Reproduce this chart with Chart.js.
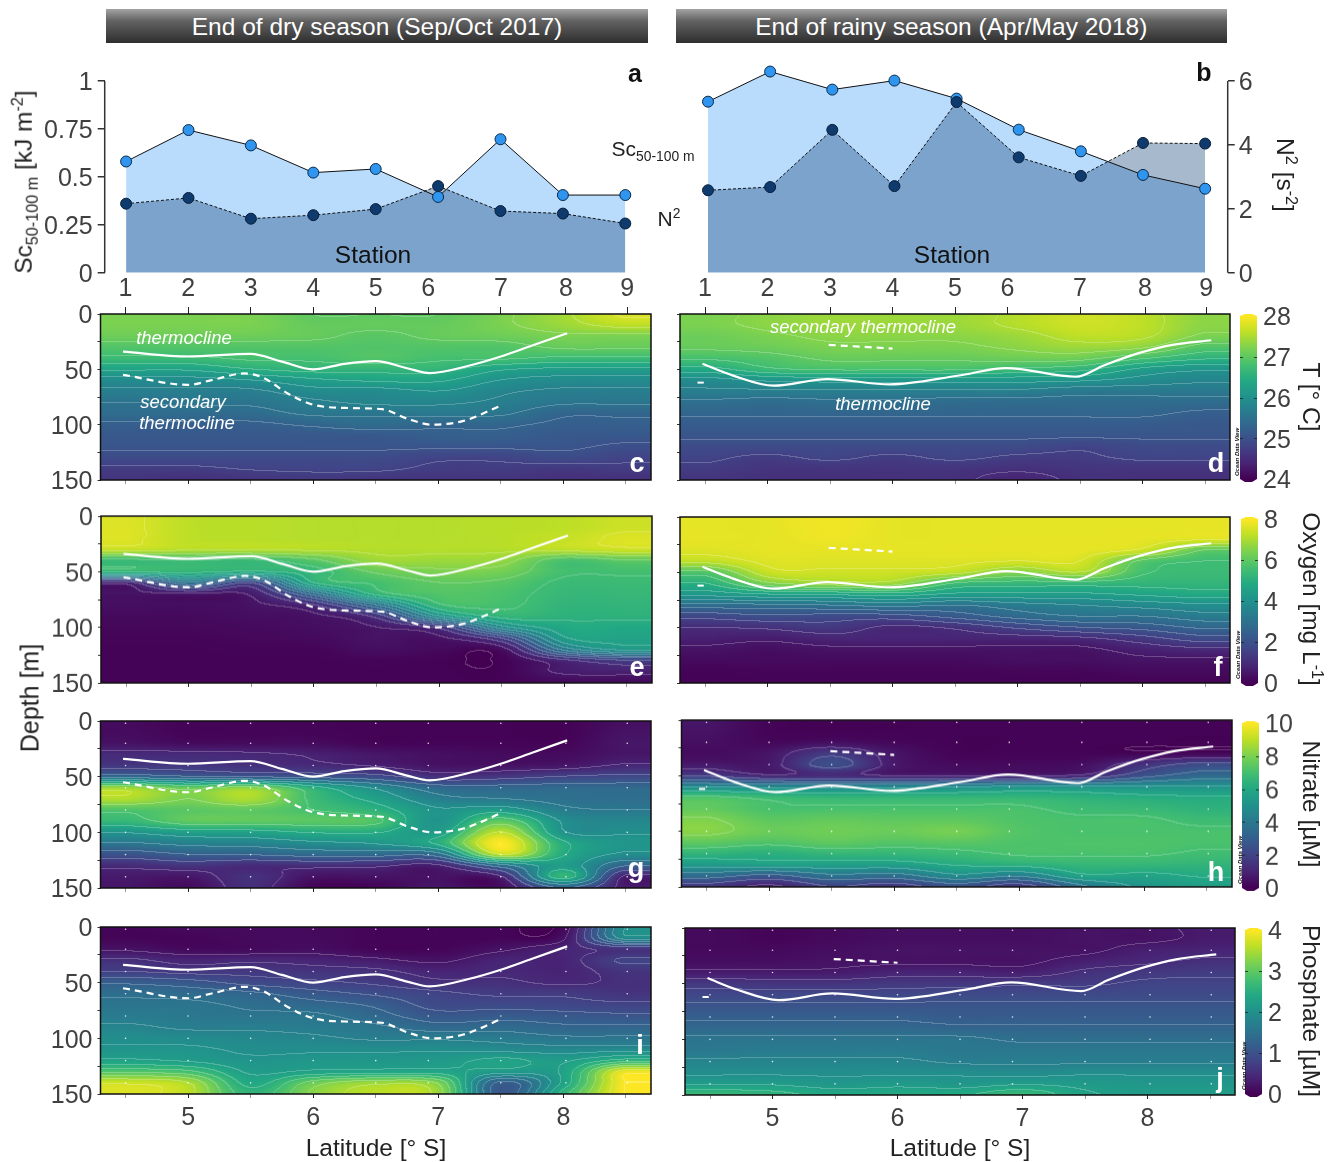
<!DOCTYPE html>
<html>
<head>
<meta charset="utf-8">
<script src="https://cdn.jsdelivr.net/npm/chart.js@4/dist/chart.umd.min.js"></script>
<style>
  html, body { margin: 0; padding: 0; background: #fff; }
  #page { position: relative; width: 1336px; height: 1162px; overflow: hidden; font-family: "Liberation Sans", Arial, sans-serif; color: #333; }
  #page canvas { position: absolute; }
  .txt { position: absolute; white-space: nowrap; line-height: 1; transform-origin: center; }
  .txt sub, .txt sup { font-size: 66%; line-height: 0; }
  .band { position: absolute; top: 9px; height: 34px; background: linear-gradient(#a3a3a3, #626262 35%, #2e2e2e); color: #fff; font-size: 24.5px; line-height: 35px; text-align: center; }
</style>
</head>
<body>
<div id="page"></div>
<script>
// stations (top panels and tick marks)
const stationNames = ['1', '2', '3', '4', '5', '6', '7', '8', '9'];
const stationLat = [4.5, 5, 5.5, 6, 6.5, 6.92, 7.5, 8.02, 8.51];
const pointLat = [4.5, 5, 5.5, 6, 6.5, 7, 7.5, 8, 8.5];

const scDry = [0.58, 0.744, 0.664, 0.522, 0.541, 0.395, 0.696, 0.405, 0.405];
const n2Dry = [2.16, 2.34, 1.69, 1.8, 1.99, 2.71, 1.93, 1.85, 1.54];
const scRainy = [0.892, 1.049, 0.955, 1.002, 0.908, 0.746, 0.633, 0.51, 0.438];
const n2Rainy = [2.58, 2.68, 4.47, 2.71, 5.34, 3.61, 3.03, 4.06, 4.04];

const scTicks = [0, 0.25, 0.5, 0.75, 1];
const n2Ticks = [0, 2, 4, 6];
const depthTicks = [0, 25, 50, 75, 100, 125, 150];
const latTicks = [4.5, 5, 5.5, 6, 6.5, 7, 7.5, 8, 8.5];
const sampleDepths = [2, 20, 40, 60, 80, 100, 120, 140];

// thermocline lines
const thermoDryLat = [4.48, 5, 5.5, 5.75, 6, 6.25, 6.5, 6.75, 6.93, 7.25, 7.5, 7.75, 8.03];
const thermoDryDepth = [34, 38.4, 36, 43, 50, 45, 42.6, 49, 53.4, 46.5, 38.4, 28.5, 17.4];
const secDryLat = [4.48, 5, 5.2, 5.45, 5.6, 5.8, 6, 6.3, 6.55, 6.75, 6.95, 7.2, 7.5];
const secDryDepth = [55, 64, 59.4, 53.7, 57.6, 72, 82, 85, 86, 94.5, 100, 96.6, 82.8];
const thermoRainyLat = [4.48, 4.72, 5.05, 5.48, 5.98, 6.52, 6.91, 7.47, 7.69, 7.97, 8.24, 8.55];
const thermoRainyDepth = [45, 55.5, 64.8, 58.8, 63.6, 55.8, 48.9, 56.7, 46.5, 35.4, 27.9, 23.7];
const secRainyLat = [5.49, 6];
const secRainyDepth = [27.9, 31.2];
const stubRainyLat = [4.44, 4.49];
const stubRainyDepth = [62, 62];

// section grids: one row per gridDepths entry, one column per pointLat entry
const gridDepths = [0, 10, 20, 30, 40, 50, 60, 70, 80, 90, 100, 110, 120, 130, 140, 150];

const tempDry = [
  [27.2, 27.2, 27.2, 27.0, 27.0, 27.0, 27.2, 27.45, 27.8],
  [27.2, 27.2, 27.2, 27.05, 27.05, 27.05, 27.2, 27.4, 27.6],
  [27.1, 27.1, 27.1, 27.05, 26.95, 27.05, 27.1, 27.2, 27.2],
  [26.9, 26.9, 26.9, 26.9, 26.9, 26.9, 26.9, 27.05, 27.05],
  [26.7, 26.7, 26.8, 26.8, 26.9, 26.8, 26.8, 26.7, 26.7],
  [26.3, 26.3, 26.5, 26.6, 26.6, 26.6, 26.3, 26.2, 26.2],
  [25.9, 25.9, 26.0, 26.2, 26.3, 26.3, 26.0, 25.9, 25.9],
  [25.7, 25.7, 25.7, 25.9, 25.9, 26.0, 25.8, 25.7, 25.7],
  [25.5, 25.55, 25.55, 25.7, 25.8, 25.8, 25.7, 25.55, 25.55],
  [25.4, 25.4, 25.4, 25.55, 25.55, 25.6, 25.55, 25.3, 25.3],
  [25.2, 25.2, 25.2, 25.3, 25.4, 25.3, 25.3, 25.2, 25.2],
  [25.1, 25.1, 25.1, 25.1, 25.1, 25.2, 25.2, 25.1, 25.1],
  [25.05, 25.05, 25.05, 25.05, 25.05, 25.05, 25.05, 25.05, 24.95],
  [24.9, 24.9, 24.9, 24.9, 24.9, 24.8, 24.8, 24.9, 24.8],
  [24.7, 24.7, 24.77, 24.8, 24.8, 24.7, 24.7, 24.65, 24.7],
  [24.6, 24.55, 24.6, 24.65, 24.6, 24.6, 24.6, 24.55, 24.55]
];
const tempRainy = [
  [27.2, 27.3, 27.4, 27.4, 27.4, 27.55, 27.7, 27.6, 27.3],
  [27.2, 27.3, 27.4, 27.4, 27.4, 27.55, 27.7, 27.6, 27.3],
  [27.1, 27.2, 27.3, 27.3, 27.3, 27.4, 27.6, 27.55, 27.2],
  [27.05, 27.1, 27.2, 27.2, 27.2, 27.3, 27.4, 27.3, 26.9],
  [26.8, 26.9, 27.05, 27.05, 27.05, 27.1, 27.1, 26.8, 26.55],
  [26.4, 26.7, 26.8, 26.8, 26.8, 26.7, 26.6, 26.2, 26.05],
  [25.9, 26.05, 26.1, 26.1, 26.1, 26.1, 26.05, 25.9, 25.8],
  [25.7, 25.7, 25.7, 25.7, 25.7, 25.7, 25.6, 25.6, 25.6],
  [25.45, 25.4, 25.45, 25.45, 25.4, 25.4, 25.4, 25.4, 25.4],
  [25.3, 25.3, 25.3, 25.3, 25.3, 25.3, 25.3, 25.3, 25.2],
  [25.15, 25.15, 25.15, 25.15, 25.15, 25.15, 25.15, 25.15, 25.1],
  [25.05, 25.05, 25.05, 25.05, 25.05, 25.05, 25.05, 25.05, 25.05],
  [24.9, 24.9, 24.9, 24.9, 24.9, 24.9, 24.8, 24.9, 24.9],
  [24.8, 24.7, 24.8, 24.7, 24.8, 24.7, 24.7, 24.8, 24.8],
  [24.7, 24.6, 24.6, 24.6, 24.6, 24.55, 24.6, 24.6, 24.6],
  [24.6, 24.55, 24.55, 24.55, 24.55, 24.4, 24.55, 24.55, 24.55]
];
const oxyDry = [
  [7.6, 7.2, 7.15, 7.1, 7.1, 7.1, 7.15, 7.2, 7.4],
  [7.6, 7.2, 7.15, 7.1, 7.1, 7.1, 7.15, 7.2, 7.4],
  [7.6, 7.2, 7.15, 7.1, 7.1, 7.1, 7.15, 7.3, 7.6],
  [7.3, 7.1, 7.1, 7.1, 7.1, 7.1, 7.1, 7.2, 7.4],
  [5.4, 5.5, 5.4, 5.9, 6.8, 6.8, 6.7, 5.7, 6.0],
  [5.2, 5.2, 5.0, 5.3, 6.1, 6.4, 6.3, 5.6, 5.6],
  [0.8, 3.0, 1.6, 5.0, 5.6, 6.0, 5.9, 5.4, 5.4],
  [0.4, 0.5, 0.6, 2.8, 5.2, 5.8, 5.7, 5.3, 5.3],
  [0.3, 0.3, 0.4, 1.0, 3.0, 5.4, 5.6, 5.2, 5.2],
  [0.2, 0.2, 0.3, 0.4, 1.2, 4.0, 5.2, 5.1, 5.1],
  [0.15, 0.15, 0.2, 0.3, 0.5, 1.2, 3.8, 4.8, 4.8],
  [0.1, 0.1, 0.15, 0.2, 0.4, 0.4, 1.5, 4.4, 4.6],
  [0.05, 0.05, 0.1, 0.1, 0.3, 0.2, 0.3, 3.2, 4.2],
  [0.05, 0.05, 0.05, 0.05, 0.1, 0.05, 0.05, 0.9, 1.5],
  [0.05, 0.05, 0.05, 0.05, 0.05, 0.05, 0.05, 0.6, 0.7],
  [0.05, 0.05, 0.05, 0.05, 0.05, 0.05, 0.05, 0.2, 0.2]
];
const oxyRainy = [
  [7.7, 7.7, 7.85, 7.7, 7.7, 7.7, 7.7, 7.7, 7.7],
  [7.7, 7.7, 7.85, 7.7, 7.7, 7.7, 7.7, 7.7, 7.7],
  [7.7, 7.7, 7.8, 7.7, 7.7, 7.7, 7.7, 7.7, 7.6],
  [7.6, 7.7, 7.7, 7.7, 7.7, 7.7, 7.7, 7.4, 6.0],
  [7.2, 7.6, 7.6, 7.6, 7.6, 7.5, 7.5, 5.9, 5.5],
  [5.8, 7.3, 7.4, 7.4, 7.2, 6.5, 7.0, 5.6, 5.4],
  [5.0, 6.4, 6.8, 6.8, 5.5, 5.3, 5.3, 5.2, 5.2],
  [4.2, 4.5, 4.6, 4.8, 4.4, 4.4, 4.4, 4.6, 4.8],
  [2.8, 2.9, 3.0, 3.2, 3.0, 3.3, 3.5, 3.7, 3.9],
  [1.7, 1.9, 1.8, 1.8, 2.2, 2.7, 3.0, 3.0, 3.3],
  [1.0, 1.1, 1.3, 0.9, 1.1, 1.6, 2.0, 2.2, 2.6],
  [0.7, 0.6, 0.8, 0.8, 0.8, 0.8, 0.9, 1.3, 1.8],
  [0.4, 0.3, 0.4, 0.4, 0.4, 0.4, 0.4, 0.7, 0.9],
  [0.2, 0.2, 0.2, 0.2, 0.2, 0.3, 0.3, 0.4, 0.4],
  [0.05, 0.1, 0.1, 0.1, 0.1, 0.1, 0.1, 0.2, 0.2],
  [0.05, 0.05, 0.05, 0.05, 0.05, 0.05, 0.05, 0.05, 0.05]
];
const nitDry = [
  [0.3, 0.1, 0.1, 0.1, 0.05, 0.05, 0.05, 0.05, 0.4],
  [0.3, 0.1, 0.1, 0.1, 0.05, 0.05, 0.05, 0.05, 0.5],
  [0.5, 0.3, 0.3, 0.3, 0.1, 0.1, 0.1, 0.1, 0.6],
  [1.2, 1.2, 1.1, 0.9, 0.6, 0.4, 0.3, 0.3, 0.6],
  [1.6, 1.6, 1.4, 1.2, 0.9, 0.5, 0.5, 0.6, 1.1],
  [3.5, 3.0, 2.8, 2.6, 2.3, 1.4, 1.6, 2.0, 2.2],
  [8.5, 7.6, 8.2, 6.3, 4.8, 3.4, 3.3, 3.4, 3.4],
  [8.8, 8.0, 8.7, 6.8, 5.7, 4.3, 4.0, 3.7, 3.6],
  [7.2, 7.4, 7.5, 7.0, 6.4, 5.1, 5.5, 4.2, 4.0],
  [6.6, 7.5, 7.5, 7.4, 7.2, 5.1, 7.5, 4.9, 4.6],
  [5.1, 5.6, 5.7, 6.1, 6.1, 5.5, 9.0, 5.1, 4.9],
  [3.9, 4.3, 4.4, 4.8, 5.1, 6.2, 10, 6.2, 5.2],
  [2.5, 3.0, 3.1, 3.4, 3.4, 3.6, 9.0, 6.1, 4.8],
  [1.2, 1.5, 1.2, 1.3, 1.2, 0.9, 3.6, 5.5, 3.1],
  [0.7, 0.6, 1.4, 0.5, 0.5, 0.5, 0.9, 6.5, 0.8],
  [0.6, 0.3, 1.3, 0.1, 0.1, 0.6, 0.3, 3.1, 0.7]
];
const nitRainy = [
  [0.6, 0.1, 0.05, 0.05, 0.05, 0.05, 0.05, 0.05, 0.05],
  [0.5, 0.1, 0.05, 0.05, 0.05, 0.05, 0.05, 0.05, 0.05],
  [0.4, 0.2, 0.4, 0.2, 0.05, 0.05, 0.05, 0.05, 0.05],
  [0.3, 0.6, 1.7, 0.6, 0.1, 0.1, 0.1, 0.1, 0.2],
  [0.7, 0.7, 2.4, 0.7, 0.3, 0.3, 0.4, 1.5, 2.3],
  [1.8, 1.1, 1.3, 0.9, 0.9, 0.9, 1.1, 2.6, 3.5],
  [4.8, 4.7, 4.6, 4.7, 4.8, 5.1, 5.1, 5.1, 5.1],
  [7.2, 6.8, 6.6, 6.6, 6.6, 6.6, 6.4, 6.2, 6.1],
  [7.6, 7.1, 7.1, 7.1, 7.1, 7.1, 6.8, 6.7, 6.4],
  [8.1, 7.5, 7.6, 7.5, 7.5, 7.2, 7.1, 7.1, 6.8],
  [8.2, 7.7, 7.8, 7.7, 7.9, 7.3, 7.1, 7.1, 7.1],
  [7.5, 7.2, 7.5, 7.3, 7.4, 7.2, 7.2, 7.2, 7.1],
  [6.5, 6.3, 6.6, 6.6, 6.8, 7.1, 7.1, 7.1, 6.9],
  [5.4, 5.6, 5.6, 5.6, 6.1, 6.3, 6.6, 6.6, 6.5],
  [3.5, 2.8, 3.8, 3.6, 4.8, 4.2, 5.8, 5.8, 6.1],
  [1.6, 0.8, 2.0, 1.5, 2.5, 1.5, 3.8, 5.2, 5.6]
];
const phoDry = [
  [0.05, 0.1, 0.1, 0.1, 0.05, 0.05, 0.05, 0.1, 2.0],
  [0.05, 0.05, 0.1, 0.1, 0.05, 0.05, 0.05, 0.2, 1.9],
  [0.2, 0.1, 0.1, 0.15, 0.05, 0.05, 0.2, 0.4, 0.6],
  [0.55, 0.4, 0.45, 0.4, 0.3, 0.2, 0.4, 0.4, 0.8],
  [0.75, 0.65, 0.65, 0.6, 0.55, 0.4, 0.45, 0.4, 0.6],
  [1.2, 1.1, 0.9, 0.8, 0.7, 0.55, 0.55, 0.45, 0.55],
  [1.45, 1.4, 1.3, 1.1, 0.95, 0.8, 0.7, 0.7, 0.6],
  [1.55, 1.55, 1.45, 1.35, 1.2, 0.9, 0.9, 0.85, 0.8],
  [1.65, 1.6, 1.55, 1.55, 1.35, 1.1, 1.15, 1.1, 1.05],
  [1.8, 1.7, 1.7, 1.65, 1.55, 1.35, 1.4, 1.3, 1.3],
  [1.95, 1.9, 1.85, 1.8, 1.7, 1.7, 1.65, 1.55, 1.55],
  [2.05, 2.05, 1.95, 1.95, 1.95, 1.95, 1.9, 1.85, 1.9],
  [2.3, 2.2, 2.05, 2.1, 2.1, 2.15, 2.3, 2.2, 2.6],
  [2.9, 2.8, 2.2, 2.3, 2.35, 2.35, 2.15, 2.3, 3.9],
  [3.7, 3.5, 2.4, 3.1, 3.4, 3.2, 1.2, 2.3, 4.0],
  [3.8, 3.6, 2.6, 3.3, 3.6, 3.4, 1.1, 2.6, 4.0]
];
const phoRainy = [
  [0.1, 0.05, 0.1, 0.15, 0.15, 0.15, 0.2, 0.2, 0.3],
  [0.1, 0.05, 0.1, 0.15, 0.15, 0.15, 0.2, 0.2, 0.3],
  [0.1, 0.1, 0.15, 0.2, 0.2, 0.2, 0.2, 0.35, 0.4],
  [0.15, 0.15, 0.2, 0.2, 0.2, 0.2, 0.35, 0.45, 0.55],
  [0.3, 0.3, 0.3, 0.4, 0.4, 0.35, 0.55, 0.65, 0.7],
  [0.65, 0.6, 0.6, 0.65, 0.65, 0.7, 0.7, 0.8, 0.8],
  [0.85, 0.85, 0.85, 0.85, 0.9, 0.9, 0.9, 0.9, 0.9],
  [1.05, 1.05, 1.05, 1.05, 1.05, 1.05, 1.05, 1.05, 1.05],
  [1.2, 1.2, 1.2, 1.2, 1.15, 1.15, 1.15, 1.15, 1.15],
  [1.35, 1.35, 1.35, 1.35, 1.3, 1.3, 1.3, 1.3, 1.3],
  [1.55, 1.55, 1.55, 1.55, 1.55, 1.45, 1.45, 1.45, 1.45],
  [1.6, 1.65, 1.65, 1.65, 1.6, 1.6, 1.6, 1.6, 1.6],
  [1.8, 1.8, 1.8, 1.8, 1.7, 1.7, 1.7, 1.7, 1.7],
  [1.95, 1.95, 1.95, 1.95, 1.95, 1.9, 1.95, 1.95, 1.95],
  [2.2, 2.2, 2.1, 2.15, 2.1, 2.2, 2.15, 2.1, 2.1],
  [2.7, 2.6, 2.4, 2.45, 2.45, 2.7, 2.3, 2.2, 2.2]
];

const tempTicks = [24, 25, 26, 27, 28];
const oxyTicks = [0, 2, 4, 6, 8];
const nitTicks = [0, 2, 4, 6, 8, 10];
const phoTicks = [0, 1, 2, 3, 4];

const viridis = [[68, 1, 84], [72, 36, 117], [65, 68, 135], [53, 95, 141], [42, 120, 142], [33, 145, 140], [34, 168, 132], [68, 191, 112], [122, 209, 81], [189, 223, 38], [253, 231, 37]];

const page = document.getElementById('page');
const tickFont = { size: 25 };
const tickColor = '#404040';
const labelDrop = 2.5;
Chart.defaults.font.family = "'Liberation Sans', Arial, sans-serif";
Chart.defaults.color = tickColor;
Chart.defaults.animation = false;
Chart.defaults.responsive = false;
Chart.defaults.layout.autoPadding = false;

function makeCanvas(x, y, w, h) {
  const c = document.createElement('canvas');
  c.width = w;
  c.height = h;
  c.style.left = x + 'px';
  c.style.top = y + 'px';
  c.style.width = w + 'px';
  c.style.height = h + 'px';
  page.appendChild(c);
  return c.getContext('2d');
}

function addText(html, x, y, size, extra) {
  const s = document.createElement('div');
  s.className = 'txt';
  s.innerHTML = html;
  s.style.left = x + 'px';
  s.style.top = y + 'px';
  s.style.fontSize = size + 'px';
  if (extra && extra.style) s.style.cssText += extra.style;
  s.style.transform = 'translate(-50%, -50%) ' + (extra && extra.rotate ? 'rotate(' + extra.rotate + 'deg)' : '');
  page.appendChild(s);
}

function zip(xs, ys) {
  return xs.map((x, i) => ({ x: x, y: ys[i] }));
}

function viridisAt(t) {
  t = Math.max(0, Math.min(1, t)) * 10;
  const i = Math.min(9, Math.floor(t));
  const f = t - i;
  return [0, 1, 2].map(k => viridis[i][k] + (viridis[i + 1][k] - viridis[i][k]) * f);
}

function catmull(p0, p1, p2, p3, t) {
  return 0.5 * (2 * p1 + (p2 - p0) * t + (2 * p0 - 5 * p1 + 4 * p2 - p3) * t * t + (3 * p1 - p0 - 3 * p2 + p3) * t * t * t);
}

// position inside a list as [index, fraction], stuck to the ends
function locate(list, v) {
  if (v <= list[0]) return [0, 0];
  for (let i = 0; i < list.length - 1; i++) {
    if (v < list[i + 1]) return [i, (v - list[i]) / (list[i + 1] - list[i])];
  }
  return [list.length - 1, 0];
}

// Shades the plot area from a grid, going through the chart's own scales
function sectionPlugin(grid, vmin, vmax, step) {
  return {
    id: 'section',
    beforeDatasetsDraw(chart) {
      const a = chart.chartArea;
      const w = Math.round(a.right - a.left);
      const h = Math.round(a.bottom - a.top);
      const cols = [];
      for (let i = 0; i < w; i++) cols.push(locate(pointLat, chart.scales.x.getValueForPixel(a.left + i + 0.5)));
      const rows = [];
      for (let j = 0; j < h; j++) rows.push(locate(gridDepths, chart.scales.y.getValueForPixel(a.top + j + 0.5)));
      const nr = gridDepths.length, nc = pointLat.length;
      const at = (r, c) => grid[Math.max(0, Math.min(nr - 1, r))][Math.max(0, Math.min(nc - 1, c))];
      const vals = new Float32Array(w * h);
      for (let j = 0; j < h; j++) {
        const [r, fr] = rows[j];
        for (let i = 0; i < w; i++) {
          const [c, fc] = cols[i];
          const line = [];
          for (let k = -1; k <= 2; k++) {
            line.push(catmull(at(r + k, c - 1), at(r + k, c), at(r + k, c + 1), at(r + k, c + 2), fc));
          }
          vals[j * w + i] = catmull(line[0], line[1], line[2], line[3], fr);
        }
      }
      const off = document.createElement('canvas');
      off.width = w;
      off.height = h;
      const octx = off.getContext('2d');
      const img = octx.createImageData(w, h);
      for (let j = 0; j < h; j++) {
        for (let i = 0; i < w; i++) {
          const v = vals[j * w + i];
          const rgb = viridisAt((v - vmin) / (vmax - vmin));
          const band = Math.floor(v / step);
          const edge = (i < w - 1 && Math.floor(vals[j * w + i + 1] / step) !== band) || (j < h - 1 && Math.floor(vals[(j + 1) * w + i] / step) !== band);
          const o = (j * w + i) * 4;
          for (let k = 0; k < 3; k++) img.data[o + k] = edge ? rgb[k] + (255 - rgb[k]) * 0.22 : rgb[k];
          img.data[o + 3] = 255;
        }
      }
      octx.putImageData(img, 0, 0);
      chart.ctx.drawImage(off, a.left, a.top, a.right - a.left, a.bottom - a.top);
    },
    afterDatasetsDraw(chart) {
      const a = chart.chartArea;
      const ctx = chart.ctx;
      ctx.save();
      ctx.strokeStyle = '#111';
      ctx.lineWidth = 1.5;
      ctx.strokeRect(a.left, a.top, a.right - a.left, a.bottom - a.top);
      ctx.restore();
    }
  };
}

function sectionChart(o) {
  const canvasTop = o.top - (o.stationLabels ? 44 : 20);
  const canvasBottom = o.bottom + (o.latLabels ? 42 : 20);
  const ctx = makeCanvas(o.canvasX, canvasTop, o.canvasW, canvasBottom - canvasTop);

  const datasets = [
    { data: zip(o.thermo[0], o.thermo[1]), showLine: true, borderColor: '#fff', borderWidth: 2.2, pointRadius: 0, cubicInterpolationMode: 'monotone' },
    { data: zip(o.sec[0], o.sec[1]), showLine: true, borderColor: '#fff', borderWidth: 2.2, borderDash: [7, 5], pointRadius: 0, cubicInterpolationMode: 'monotone' }
  ];
  if (o.stub) {
    datasets.push({ data: zip(stubRainyLat, stubRainyDepth), showLine: true, borderColor: '#fff', borderWidth: 2, pointRadius: 0 });
  }
  if (o.dots) {
    const pts = [];
    stationLat.forEach(lat => sampleDepths.forEach(d => pts.push({ x: lat, y: d })));
    datasets.push({ data: pts, showLine: false, pointRadius: 0.8, pointBackgroundColor: 'rgba(255,255,255,0.85)', pointBorderWidth: 0 });
  }

  return new Chart(ctx, {
    type: 'scatter',
    data: { datasets: datasets },
    options: {
      layout: { padding: { left: o.labelDepth ? 0 : o.left - o.canvasX - 60, right: o.canvasX + o.canvasW - o.right } },
      plugins: { legend: { display: false }, tooltip: { enabled: false } },
      scales: {
        x: {
          type: 'linear', position: 'bottom', min: 4.3, max: 8.7,
          border: { display: false },
          grid: { drawOnChartArea: false, tickLength: 4, tickColor: c => (Number.isInteger(c.tick.value) ? '#222' : '#999') },
          afterBuildTicks: s => { s.ticks = latTicks.map(v => ({ value: v })); },
          ticks: { font: tickFont, color: tickColor, autoSkip: false, maxRotation: 0, padding: 5, callback: v => (o.latLabels && Number.isInteger(v) ? String(v) : '') },
          afterFit: s => { s.height = canvasBottom - o.bottom; }
        },
        x2: {
          type: 'linear', position: 'top', min: 4.3, max: 8.7,
          border: { display: false },
          grid: { drawOnChartArea: !o.dots, color: 'rgba(255,255,255,0.28)', lineWidth: 1, tickLength: o.stationLabels ? 7 : 0, tickColor: '#222' },
          afterBuildTicks: s => { s.ticks = stationLat.map(v => ({ value: v })); },
          ticks: { font: tickFont, color: tickColor, autoSkip: false, maxRotation: 0, padding: 3, callback: (v, i) => (o.stationLabels ? stationNames[i] : '') },
          afterFit: s => { s.height = o.top - canvasTop; }
        },
        y: {
          type: 'linear', position: 'left', reverse: true, min: 0, max: 150,
          border: { display: false },
          grid: { drawOnChartArea: false, tickLength: 3, tickColor: '#333' },
          afterBuildTicks: s => { s.ticks = depthTicks.map(v => ({ value: v })); },
          ticks: { font: tickFont, color: tickColor, autoSkip: false, padding: 5, labelOffset: labelDrop, callback: v => (o.labelDepth && v % 50 === 0 ? String(v) : '') },
          afterFit: s => { s.width = o.labelDepth ? o.left - o.canvasX : 60; }
        }
      }
    },
    plugins: [sectionPlugin(o.grid, o.vmin, o.vmax, o.step)]
  });
}

// Colour bar with its value axis on the right
function colorBar(o) {
  const ctx = makeCanvas(o.left - 4, o.top - 20, 70, o.bottom - o.top + 40);
  return new Chart(ctx, {
    type: 'scatter',
    data: { datasets: [] },
    options: {
      layout: { padding: { left: 4, top: 20, bottom: 20 } },
      plugins: { legend: { display: false }, tooltip: { enabled: false } },
      scales: {
        x: { type: 'linear', display: false, min: 0, max: 1, afterFit: s => { s.height = 0; } },
        y: {
          type: 'linear', position: 'right', min: o.ticks[0], max: o.ticks[o.ticks.length - 1],
          border: { display: false },
          grid: { drawOnChartArea: false, drawTicks: false },
          afterBuildTicks: s => { s.ticks = o.ticks.map(v => ({ value: v })); },
          ticks: { font: tickFont, color: tickColor, autoSkip: false, padding: 6, labelOffset: labelDrop, callback: v => String(v) },
          afterFit: s => { s.width = 70 - 4 - o.width; }
        }
      }
    },
    plugins: [{
      id: 'bar',
      afterDraw(chart) {
        const a = chart.chartArea;
        const y = chart.scales.y;
        const c = chart.ctx;
        const g = c.createLinearGradient(0, y.getPixelForValue(o.ticks[0]), 0, y.getPixelForValue(o.ticks[o.ticks.length - 1]));
        viridis.forEach((col, i) => g.addColorStop(i / 10, 'rgb(' + col.join(',') + ')'));
        c.save();
        c.fillStyle = g;
        c.beginPath();
        c.moveTo(a.left, a.top);
        c.lineTo(a.left + 5, a.top - 2);
        c.lineTo(a.right - 5, a.top - 2);
        c.lineTo(a.right, a.top);
        c.lineTo(a.right, a.bottom);
        c.lineTo(a.right - 5, a.bottom + 3);
        c.lineTo(a.left + 5, a.bottom + 3);
        c.lineTo(a.left, a.bottom);
        c.closePath();
        c.fill();
        c.strokeStyle = 'rgba(30,30,30,0.8)';
        c.lineWidth = 1;
        y.ticks.slice(1, -1).forEach(t => {
          const py = Math.round(y.getPixelForValue(t.value)) + 0.5;
          c.beginPath();
          c.moveTo(a.left, py);
          c.lineTo(a.left + 3, py);
          c.moveTo(a.right - 3, py);
          c.lineTo(a.right, py);
          c.stroke();
        });
        c.restore();
      }
    }]
  });
}

// Top panels: Sc on 0-1 and N2 on 0-6, only one of the two axes is shown per panel
function stationChart(o) {
  const canvasTop = 30;
  const canvasH = 270;
  const ctx = makeCanvas(o.canvasX, canvasTop, o.canvasW, canvasH);
  const bottom = 272.7;
  const top = 61.8;
  const areaDataset = { data: zip(pointLat, o.sc), yAxisID: 'ySc', order: 3, showLine: true, fill: 'origin', backgroundColor: 'rgb(185,220,253)', borderWidth: 0, pointRadius: 0 };
  const n2Dataset = { data: zip(pointLat, o.n2), yAxisID: 'yN2', order: o.n2Front ? 0 : 1, showLine: true, fill: 'origin', backgroundColor: 'rgba(17,66,120,0.37)', borderColor: '#111', borderWidth: 1, borderDash: [3, 2], pointRadius: 5.5, pointBackgroundColor: '#0e3a6d', pointBorderColor: '#0a1f3a', pointBorderWidth: 1 };
  const scDataset = { data: zip(pointLat, o.sc), yAxisID: 'ySc', order: o.n2Front ? 1 : 0, showLine: true, borderColor: '#111', borderWidth: 1, pointRadius: 5.5, pointBackgroundColor: '#2f95ee', pointBorderColor: '#0a2a4a', pointBorderWidth: 1 };

  return new Chart(ctx, {
    type: 'scatter',
    data: { datasets: [areaDataset, n2Dataset, scDataset] },
    options: {
      layout: { padding: { top: top - canvasTop, bottom: canvasTop + canvasH - bottom, left: o.leftAxis ? 0 : o.left - o.canvasX, right: o.leftAxis ? o.canvasX + o.canvasW - o.right : 0 } },
      plugins: { legend: { display: false }, tooltip: { enabled: false }, filler: { drawTime: 'beforeDatasetsDraw' } },
      scales: {
        x: { type: 'linear', display: false, min: o.latMin, max: o.latMax, afterFit: s => { s.height = 0; } },
        ySc: {
          type: 'linear', position: 'left', display: o.leftAxis, min: 0, max: 1.1,
          border: { display: false },
          grid: { drawOnChartArea: false, tickLength: 7, tickColor: '#333', lineWidth: 1.5 },
          afterBuildTicks: s => { s.ticks = scTicks.map(v => ({ value: v })); },
          ticks: { font: tickFont, color: tickColor, autoSkip: false, padding: 5, labelOffset: labelDrop, callback: v => String(v) },
          afterFit: s => { s.width = o.leftAxis ? o.left - o.canvasX : 0; }
        },
        yN2: {
          type: 'linear', position: 'right', display: !o.leftAxis, min: 0, max: 6.6,
          border: { display: false },
          grid: { drawOnChartArea: false, tickLength: 7, tickColor: '#333', lineWidth: 1.5 },
          afterBuildTicks: s => { s.ticks = n2Ticks.map(v => ({ value: v })); },
          ticks: { font: tickFont, color: tickColor, autoSkip: false, padding: 4, labelOffset: labelDrop, callback: v => String(v) },
          afterFit: s => { s.width = o.leftAxis ? 0 : o.canvasX + o.canvasW - o.right; }
        }
      }
    },
    plugins: [{
      id: 'axisLine',
      afterDraw(chart) {
        const s = o.leftAxis ? chart.scales.ySc : chart.scales.yN2;
        const px = o.leftAxis ? chart.chartArea.left : chart.chartArea.right;
        const c = chart.ctx;
        c.save();
        c.strokeStyle = '#333';
        c.lineWidth = 1.5;
        c.beginPath();
        c.moveTo(px, s.getPixelForValue(0));
        c.lineTo(px, s.getPixelForValue(s.ticks[s.ticks.length - 1].value));
        c.stroke();
        c.restore();
      }
    }]
  });
}

stationChart({ canvasX: 0, canvasW: 660, left: 104.7, right: 651, latMin: 4.3285, latMax: 8.706, sc: scDry, n2: n2Dry, leftAxis: true, n2Front: false });
stationChart({ canvasX: 660, canvasW: 676, left: 680, right: 1227.7, latMin: 4.2746, latMax: 8.6815, sc: scRainy, n2: n2Rainy, leftAxis: false, n2Front: true });

const thermoDry = [thermoDryLat, thermoDryDepth];
const secDry = [secDryLat, secDryDepth];
const thermoRainy = [thermoRainyLat, thermoRainyDepth];
const secRainy = [secRainyLat, secRainyDepth];

sectionChart({ canvasX: 0, canvasW: 660, left: 100.5, right: 651, top: 313.5, bottom: 480, grid: tempDry, vmin: 24, vmax: 28, step: 0.25, thermo: thermoDry, sec: secDry, labelDepth: true, stationLabels: true });
sectionChart({ canvasX: 660, canvasW: 580, left: 680, right: 1230, top: 313.5, bottom: 480, grid: tempRainy, vmin: 24, vmax: 28, step: 0.25, thermo: thermoRainy, sec: secRainy, stub: true, stationLabels: true });
sectionChart({ canvasX: 0, canvasW: 660, left: 101, right: 652, top: 516, bottom: 682.5, grid: oxyDry, vmin: 0, vmax: 8, step: 0.5, thermo: thermoDry, sec: secDry, labelDepth: true });
sectionChart({ canvasX: 660, canvasW: 580, left: 680, right: 1230, top: 516.5, bottom: 683, grid: oxyRainy, vmin: 0, vmax: 8, step: 0.5, thermo: thermoRainy, sec: secRainy, stub: true });
sectionChart({ canvasX: 0, canvasW: 660, left: 100.5, right: 651, top: 720.7, bottom: 888, grid: nitDry, vmin: 0, vmax: 10, step: 1, thermo: thermoDry, sec: secDry, labelDepth: true, dots: true });
sectionChart({ canvasX: 660, canvasW: 580, left: 681.5, right: 1232, top: 720, bottom: 886.7, grid: nitRainy, vmin: 0, vmax: 10, step: 1, thermo: thermoRainy, sec: secRainy, stub: true, dots: true });
sectionChart({ canvasX: 0, canvasW: 660, left: 100.5, right: 651, top: 927, bottom: 1094, grid: phoDry, vmin: 0, vmax: 4, step: 0.25, thermo: thermoDry, sec: secDry, labelDepth: true, dots: true, latLabels: true });
sectionChart({ canvasX: 660, canvasW: 580, left: 685, right: 1235, top: 928, bottom: 1095, grid: phoRainy, vmin: 0, vmax: 4, step: 0.25, thermo: thermoRainy, sec: secRainy, stub: true, dots: true, latLabels: true });

colorBar({ left: 1240, width: 17, top: 314.5, bottom: 480, ticks: tempTicks });
colorBar({ left: 1240.5, width: 17, top: 517.5, bottom: 684, ticks: oxyTicks });
colorBar({ left: 1242, width: 17, top: 722, bottom: 888.5, ticks: nitTicks });
colorBar({ left: 1245, width: 17, top: 929, bottom: 1095, ticks: phoTicks });

// season bands
[['End of dry season (Sep/Oct 2017)', 106, 542], ['End of rainy season (Apr/May 2018)', 675.5, 551.5]].forEach(b => {
  const d = document.createElement('div');
  d.className = 'band';
  d.textContent = b[0];
  d.style.left = b[1] + 'px';
  d.style.width = b[2] + 'px';
  page.appendChild(d);
});

// axis titles and annotations
const ink = { style: 'color:#222' };
addText('Sc<sub>50-100 m</sub> [kJ m<sup>-2</sup>]', 24, 182, 24.5, { rotate: -90, style: 'color:#222' });
addText('N<sup>2</sup> [s<sup>-2</sup>]', 1285, 175, 24.5, { rotate: 90, style: 'color:#222' });
addText('Depth [m]', 30, 698, 25, { rotate: -90, style: 'color:#222' });
addText('T [° C]', 1311, 397, 24.5, { rotate: 90, style: 'color:#222' });
addText('Oxygen [mg L<sup>-1</sup>]', 1311, 599, 24.5, { rotate: 90, style: 'color:#222' });
addText('Nitrate [µM]', 1311, 804, 24.5, { rotate: 90, style: 'color:#222' });
addText('Phosphate [µM]', 1311, 1011, 24.5, { rotate: 90, style: 'color:#222' });
addText('Latitude [° S]', 376, 1148, 24.5, ink);
addText('Latitude [° S]', 960, 1148, 24.5, ink);
addText('Station', 373, 255, 24.5, { style: 'color:#111' });
addText('Station', 952, 255, 24.5, { style: 'color:#111' });
addText('Sc<sub>50-100 m</sub>', 653, 148, 21, ink);
addText('N<sup>2</sup>', 669, 218, 21, ink);
addText('a', 635, 73, 25, { style: 'color:#111;font-weight:bold' });
addText('b', 1204, 72, 25, { style: 'color:#111;font-weight:bold' });

const italic = { style: 'color:#fff;font-style:italic' };
addText('thermocline', 184, 338, 18.5, italic);
addText('secondary', 183, 402, 18.5, italic);
addText('thermocline', 187, 423, 18.5, italic);
addText('secondary thermocline', 863, 327, 18.5, italic);
addText('thermocline', 883, 404, 18.5, italic);

const letter = { style: 'color:#fff;font-weight:bold' };
[['c', 637, 463], ['d', 1216, 463], ['e', 637, 667], ['f', 1218, 667], ['g', 636, 868], ['h', 1216, 872], ['i', 640, 1045], ['j', 1220, 1078]].forEach(l => {
  addText(l[0], l[1], l[2], 27, letter);
});

[[1237, 452], [1238, 655], [1240, 860], [1244, 1066]].forEach(p => {
  addText('Ocean Data View', p[0], p[1], 6, { rotate: -90, style: 'color:#111;font-weight:bold;font-style:italic' });
});
</script>
</body>
</html>
